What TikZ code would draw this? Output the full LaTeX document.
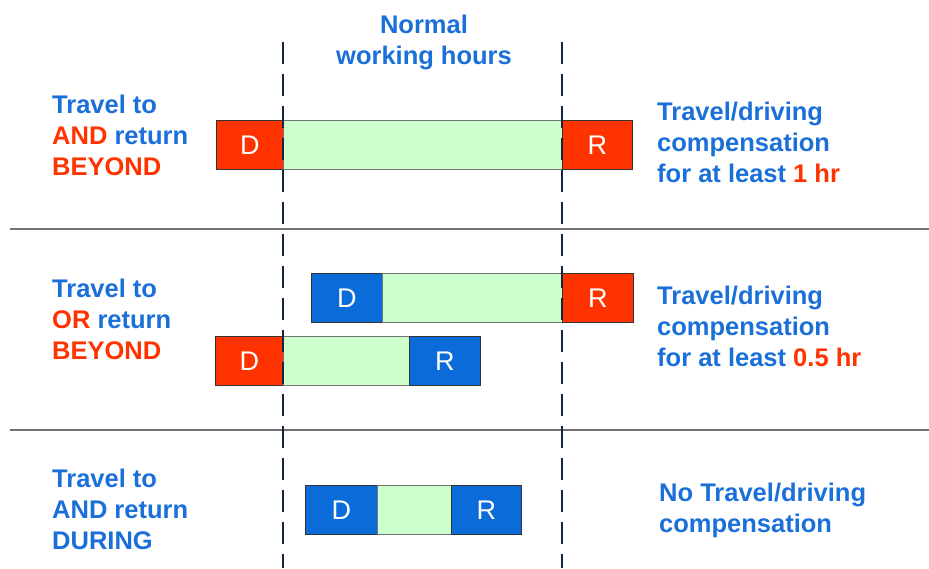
\documentclass[tikz,border=0pt]{standalone}
\usepackage{fontspec}
\setmainfont{Liberation Sans}
\definecolor{tblue}{HTML}{1A6FD8}
\definecolor{bblue}{HTML}{0B6BD8}
\definecolor{tred}{HTML}{FF3300}
\definecolor{lgreen}{HTML}{CCFFCC}
\definecolor{navy}{HTML}{14253F}
\tikzset{
  bx/.style={draw=black!80, line width=0.8pt, anchor=north west, inner sep=0pt,
    minimum height=49pt, text=white, font=\fontsize{27}{27}\selectfont},
  redbx/.style={bx, fill=tred},
  bluebx/.style={bx, fill=bblue},
  grnbx/.style={bx, fill=lgreen, draw=black!55},
  lbl/.style={inner sep=0pt, align=left, text=tblue, font=\fontsize{25.5}{31}\selectfont\bfseries},
  hours/.style={draw=navy, line width=2.4pt, dash pattern=on 22pt off 10pt},
  sep/.style={draw=black!55, line width=1.2pt}
}
\begin{document}
\begin{tikzpicture}[x=1pt,y=-1pt]
\useasboundingbox (0,0) rectangle (929,568);
% separators
\coordinate (s1a) at (10,229); \coordinate (s1b) at (929,229);
\coordinate (s2a) at (10,430); \coordinate (s2b) at (929,430);
\draw[sep] (s1a) -- (s1b);
\draw[sep] (s2a) -- (s2b);
% row 1
\node[redbx, minimum width=67pt] (d1) at (216,120) {D};
\node[grnbx, minimum width=279pt] (g1) at (283,120) {};
\node[redbx, minimum width=70pt] (r1) at (562,120) {R};
% row 2 upper
\node[bluebx, minimum width=71pt] (d2) at (311,273) {D};
\node[grnbx, minimum width=180pt] (g2) at (382,273) {};
\node[redbx, minimum width=71pt] (r2) at (562,273) {R};
% row 2 lower
\node[redbx, minimum width=68pt] (d3) at (215,336) {D};
\node[grnbx, minimum width=126pt] (g3) at (283,336) {};
\node[bluebx, minimum width=71pt] (r3) at (409,336) {R};
% row 3
\node[bluebx, minimum width=72pt] (d4) at (305,485) {D};
\node[grnbx, minimum width=74pt] (g4) at (377,485) {};
\node[bluebx, minimum width=70pt] (r4) at (451,485) {R};
% dashed normal-hours lines
\coordinate (la) at (283,42); \coordinate (lb) at (283,568);
\coordinate (ra) at (562,42); \coordinate (rb) at (562,568);
\draw[hours] (la) -- (lb);
\draw[hours] (ra) -- (rb);
% texts
\node[lbl, align=center] (top) at (424,42) {Normal\\working hours};
\node[lbl, anchor=west] (l1) at (52,135) {Travel to\\\textcolor{tred}{AND} return\\\textcolor{tred}{BEYOND}};
\node[lbl, anchor=west] (l2) at (52,319) {Travel to\\\textcolor{tred}{OR} return\\\textcolor{tred}{BEYOND}};
\node[lbl, anchor=west] (l3) at (52,509) {Travel to\\AND return\\DURING};
\node[lbl, anchor=west] (t1) at (657,142) {Travel/driving\\compensation\\for at least \textcolor{tred}{1 hr}};
\node[lbl, anchor=west] (t2) at (657,326) {Travel/driving\\compensation\\for at least \textcolor{tred}{0.5 hr}};
\node[lbl, anchor=west] (t3) at (659,510) {No Travel/driving\\compensation};
\end{tikzpicture}
\end{document}
